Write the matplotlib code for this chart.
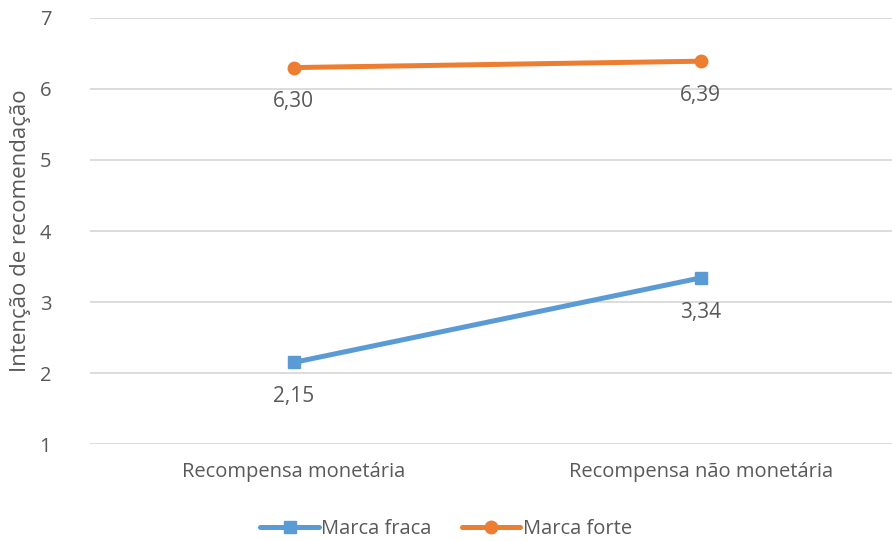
import matplotlib.pyplot as plt

plt.rcParams['font.family'] = ['Open Sans', 'DejaVu Sans']

categories = ['Recompensa monetária', 'Recompensa não monetária']
marca_fraca = [2.15, 3.34]
marca_forte = [6.30, 6.39]
labels_fraca = ['2,15', '3,34']
labels_forte = ['6,30', '6,39']

txt = '#595959'
blue = '#5B9BD5'
orange = '#ED7D31'

fig = plt.figure(figsize=(8.92, 5.41), dpi=100)
ax = fig.add_axes([0.101, 0.179, 0.9126, 0.788])

x = list(range(len(categories)))
ax.plot(x, marca_fraca, color=blue, lw=3.6, marker='s', ms=8, label='Marca fraca', solid_capstyle='round')
ax.plot(x, marca_forte, color=orange, lw=3.6, marker='o', ms=9, label='Marca forte', solid_capstyle='round')

for xi, v, s in zip(x, marca_fraca, labels_fraca):
    ax.annotate(s, (xi, v), xytext=(0, -17), textcoords='offset points',
                ha='center', va='top', fontsize=15, color=txt)
for xi, v, s in zip(x, marca_forte, labels_forte):
    ax.annotate(s, (xi, v), xytext=(0, -17), textcoords='offset points',
                ha='center', va='top', fontsize=15, color=txt)

ax.set_xlim(-0.5, 1.5)
ax.set_ylim(1, 7)
ax.set_yticks(range(1, 8))
ax.set_xticks(x)
ax.set_xticklabels(categories)
ax.grid(axis='y', color='#D9D9D9', lw=1.3)
ax.set_axisbelow(True)
for sp in ax.spines.values():
    sp.set_visible(False)
ax.tick_params(length=0, labelsize=14.5, labelcolor=txt)
ax.tick_params(axis='x', pad=13)
ax.tick_params(axis='y', pad=28)
ax.set_ylabel('Intenção de recomendação', fontsize=16, color=txt, labelpad=6)

leg = fig.legend(loc='lower center', bbox_to_anchor=(0.5, -0.03), ncol=2, frameon=False,
                 fontsize=14.5, handlelength=2.9, columnspacing=1.5, handletextpad=0.12)
for t in leg.get_texts():
    t.set_color(txt)

fig.savefig('out.png', dpi=100)
